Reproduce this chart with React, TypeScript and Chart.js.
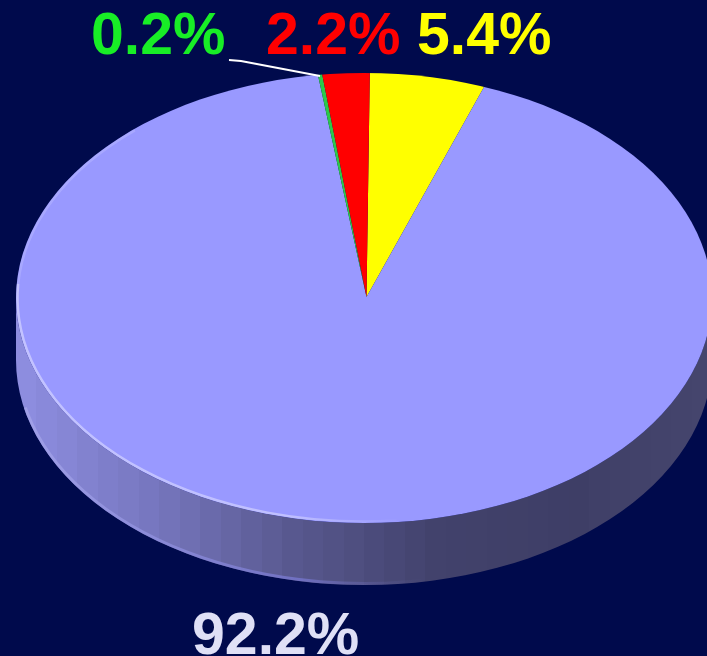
import React, { useEffect, useRef } from "react";
import { Chart, registerables } from "chart.js";

Chart.register(...registerables);

const categories = ["Yellow", "Blue", "Green", "Red"];
const shares = [5.4, 92.2, 0.2, 2.2];
const sliceColors = ["#ffff00", "#9999ff", "#2bc84a", "#ff0000"];
const labelTexts = ["5.4%", "92.2%", "0.2%", "2.2%"];
const labelColors = ["#ffff00", "#dfe0f6", "#18ee26", "#ff0000"];

const W = 707;
const H = 656;
const BG = "#000a4c";
// top face outline
const CX = 364;
const CY = 298;
const RX = 348;
const RY = 225;
const DEPTH = 62;
// pie apex sits slightly off the outline's centre (perspective)
const APEX_X = 366.5;
const APEX_Y = 297;
const PIE_RX = 354;
const PIE_RY = 230;
const labelPlaces = [
  { x: 417, y: 54 },
  { x: 192, y: 654 },
  { x: 91, y: 54 },
  { x: 266, y: 54 },
];
const shadeStops: [number, number[]][] = [
  [0, [143, 143, 226]],
  [0.2, [118, 118, 190]],
  [0.4, [88, 88, 142]],
  [0.6, [66, 66, 108]],
  [0.8, [62, 62, 102]],
  [1, [70, 70, 110]],
];

function shadeAt(t: number) {
  for (let i = 1; i < shadeStops.length; i++) {
    if (t <= shadeStops[i][0]) {
      const [a, ca] = shadeStops[i - 1];
      const [b, cb] = shadeStops[i];
      const k = (t - a) / (b - a);
      return `rgb(${ca.map((v, j) => Math.round(v + (cb[j] - v) * k)).join(",")})`;
    }
  }
  return "rgb(70,70,110)";
}

const ellipsePlugin = {
  id: "ellipsePie",
  beforeDatasetsDraw(chart: any) {
    const { ctx } = chart;
    const arc = chart.getDatasetMeta(0).data[0];
    ctx.save();
    const grad = ctx.createLinearGradient(CX - RX, 0, CX + RX, 0);
    const bands = 34;
    for (let i = 0; i < bands; i++) {
      const c = shadeAt((i + 0.5) / bands);
      grad.addColorStop(i / bands, c);
      grad.addColorStop((i + 1) / bands, c);
    }
    ctx.beginPath();
    ctx.ellipse(CX, CY + DEPTH, RX, RY, 0, 0, Math.PI);
    ctx.lineTo(CX - RX, CY);
    ctx.ellipse(CX, CY, RX, RY, 0, Math.PI, 0, true);
    ctx.closePath();
    ctx.fillStyle = grad;
    ctx.fill();
    const edge = ctx.createLinearGradient(CX - RX, 0, CX + 60, 0);
    edge.addColorStop(0, "rgba(170,170,235,0.7)");
    edge.addColorStop(0.7, "rgba(125,125,220,0.65)");
    edge.addColorStop(1, "rgba(100,100,170,0)");
    ctx.beginPath();
    ctx.ellipse(CX, CY + DEPTH - 1.5, RX - 1, RY, 0, Math.PI * 0.42, Math.PI * 0.93);
    ctx.strokeStyle = edge;
    ctx.lineWidth = 3;
    ctx.stroke();
    ctx.restore();
    // keep the pie inside the top-face outline and squash the library's circle
    ctx.save();
    ctx.beginPath();
    ctx.ellipse(CX, CY, RX, RY, 0, 0, Math.PI * 2);
    ctx.clip();
    const r = arc.outerRadius;
    ctx.translate(APEX_X, APEX_Y);
    ctx.scale(PIE_RX / r, PIE_RY / r);
    ctx.translate(-arc.x, -arc.y);
  },
  afterDatasetsDraw(chart: any) {
    const { ctx } = chart;
    ctx.restore();
    ctx.save();
    const rim = ctx.createLinearGradient(CX - RX, 0, CX + 40, 0);
    rim.addColorStop(0, "rgba(205,205,255,0.8)");
    rim.addColorStop(0.7, "rgba(205,205,255,0.75)");
    rim.addColorStop(1, "rgba(205,205,255,0)");
    ctx.beginPath();
    ctx.ellipse(CX, CY, RX - 1.5, RY - 1.5, 0, Math.PI * 0.47, Math.PI * 1.02);
    ctx.strokeStyle = rim;
    ctx.lineWidth = 2.5;
    ctx.stroke();
    ctx.beginPath();
    ctx.ellipse(CX, CY, RX - 1.5, RY - 1.5, 0, Math.PI * 1.02, Math.PI * 1.27);
    ctx.strokeStyle = "rgba(205,205,255,0.3)";
    ctx.lineWidth = 2.5;
    ctx.stroke();
    // leader line of the smallest slice
    ctx.beginPath();
    ctx.moveTo(229, 60);
    ctx.lineTo(241, 61);
    ctx.lineTo(320, 76);
    ctx.strokeStyle = "#ffffff";
    ctx.lineWidth = 2;
    ctx.stroke();
    // value labels
    ctx.font = 'bold 59px "Liberation Sans", Arial, sans-serif';
    ctx.textAlign = "left";
    ctx.textBaseline = "alphabetic";
    labelTexts.forEach((t, i) => {
      ctx.fillStyle = labelColors[i];
      ctx.fillText(t, labelPlaces[i].x, labelPlaces[i].y);
    });
    ctx.restore();
  },
};

export default function App() {
  const ref = useRef<HTMLCanvasElement | null>(null);
  useEffect(() => {
    document.body.style.margin = "0";
    document.body.style.background = BG;
    const chart = new Chart(ref.current as HTMLCanvasElement, {
      type: "pie",
      data: {
        labels: categories,
        datasets: [
          {
            data: shares,
            backgroundColor: sliceColors,
            borderWidth: 0,
            clip: false,
          } as any,
        ],
      },
      options: {
        responsive: false,
        animation: false,
        rotation: 0.55,
        layout: { padding: { left: 76, right: 51, top: 0, bottom: 60 } },
        plugins: { legend: { display: false }, tooltip: { enabled: false } },
      },
      plugins: [ellipsePlugin],
    } as any);
    return () => chart.destroy();
  }, []);
  return (
    <div style={{ width: W, height: H, background: BG, overflow: "hidden" }}>
      <canvas ref={ref} width={W} height={H} style={{ display: "block" }} />
    </div>
  );
}
